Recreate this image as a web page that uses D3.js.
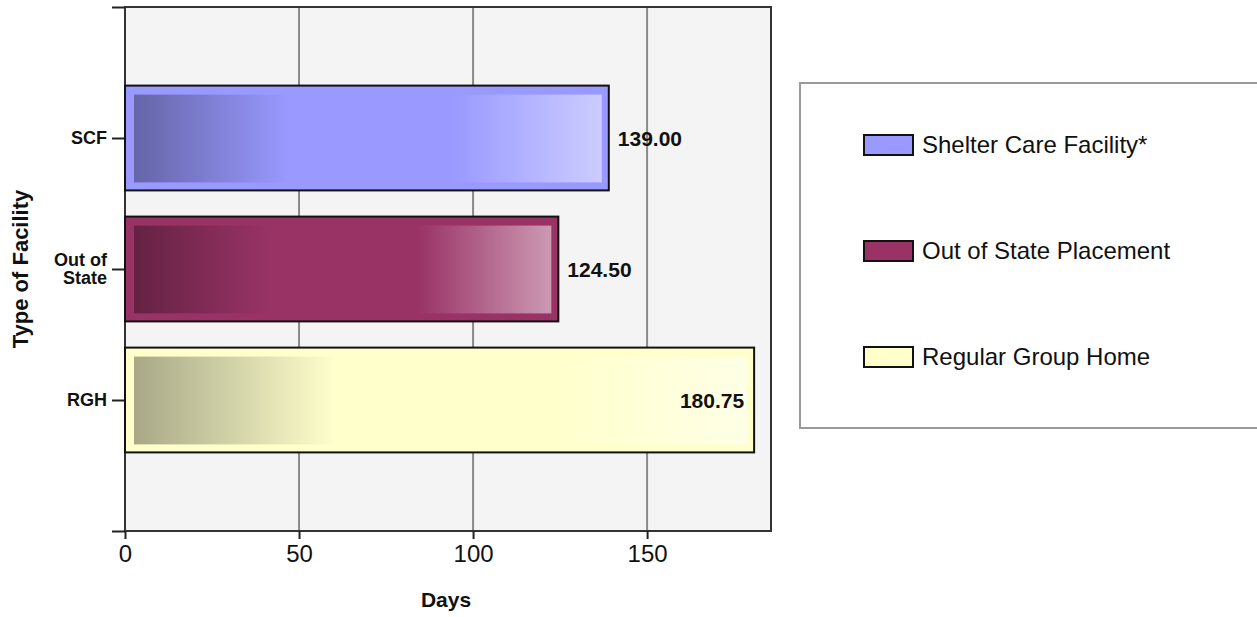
<!DOCTYPE html>
<html>
  <head>
    <meta charset="utf-8">
    <script src="https://d3js.org/d3.v7.min.js" type="text/javascript"></script>
    <style>
    body { margin: 0; background: #fff; }
    text { font-family: "Liberation Sans", Arial, sans-serif; fill: #111; }
    .cat { font-size: 18px; font-weight: bold; }
    .val { font-size: 21px; font-weight: bold; }
    .title { font-size: 21px; font-weight: bold; }
    .legend-text { font-size: 24px; }
    </style>
  </head>
  <body>
    <script>

    // data
    var categories = ["SCF", "Out of State", "RGH"];
    var catLines = [["SCF"], ["Out of", "State"], ["RGH"]];
    var values = [139.00, 124.50, 180.75];
    var seriesNames = ["Shelter Care Facility*", "Out of State Placement", "Regular Group Home"];
    var baseColors = ["#9999FF", "#993366", "#FFFFCC"];
    var xTicks = [0, 50, 100, 150];

    var W = 1257, H = 617;
    var plot = {left: 125, right: 771, top: 7, bottom: 531};

    var x = d3.scaleLinear().domain([0, 185.6]).range([plot.left, plot.right]);
    // categories sit at 1..3 on a 0..4 scale (ticks at both ends)
    var y = d3.scaleLinear().domain([0, categories.length + 1]).range([plot.top, plot.bottom]);

    var svg = d3.select("body")
      .append("svg")
        .attr("width", W)
        .attr("height", H);

    var defs = svg.append("defs");
    baseColors.forEach(function(c, i) {
      var base = d3.rgb(c);
      var dark = d3.rgb(base.r * 0.66, base.g * 0.66, base.b * 0.66);
      var light = d3.interpolateRgb(c, "#fff")(0.5);
      var g = defs.append("linearGradient")
          .attr("id", "grad" + i)
          .attr("x1", "0%").attr("x2", "100%")
          .attr("y1", "0%").attr("y2", "0%");
      g.append("stop").attr("offset", "0%").attr("stop-color", dark);
      g.append("stop").attr("offset", "33%").attr("stop-color", c);
      g.append("stop").attr("offset", "68%").attr("stop-color", c);
      g.append("stop").attr("offset", "100%").attr("stop-color", light);
    });

    // plot background
    svg.append("rect")
        .attr("x", plot.left)
        .attr("y", plot.top)
        .attr("width", plot.right - plot.left)
        .attr("height", plot.bottom - plot.top)
        .style("fill", "#F4F4F4");

    // vertical grid
    svg.selectAll(".grid")
        .data(xTicks.filter(function(d) { return d > 0; }))
        .enter().append("line")
        .attr("x1", function(d) { return x(d); })
        .attr("x2", function(d) { return x(d); })
        .attr("y1", plot.top)
        .attr("y2", plot.bottom)
        .style("stroke", "#8a8a8a")
        .style("stroke-width", 2);

    // plot border
    svg.append("rect")
        .attr("x", plot.left)
        .attr("y", plot.top)
        .attr("width", plot.right - plot.left)
        .attr("height", plot.bottom - plot.top)
        .style("fill", "none")
        .style("stroke", "#333")
        .style("stroke-width", 2);

    // x axis
    var xAxis = svg.append("g")
        .attr("transform", "translate(0," + plot.bottom + ")")
        .call(d3.axisBottom(x).tickValues(xTicks).tickSize(8).tickPadding(6).tickFormat(d3.format("d")));
    xAxis.select(".domain").remove();
    xAxis.selectAll("line").style("stroke", "#222").style("stroke-width", 2);
    xAxis.selectAll("text")
        .style("font-size", "24px")
        .style("font-family", "Liberation Sans, Arial, sans-serif")
        .style("fill", "#111");

    // y axis ticks at 0..4
    var yAxis = svg.append("g")
        .attr("transform", "translate(" + plot.left + ",0)")
        .call(d3.axisLeft(y).ticks(4).tickSize(13).tickFormat(""));
    yAxis.select(".domain").remove();
    yAxis.selectAll("line").style("stroke", "#222").style("stroke-width", 2);

    // category labels
    catLines.forEach(function(lines, i) {
      var t = svg.append("text")
          .attr("class", "cat")
          .attr("text-anchor", "end")
          .attr("x", 107)
          .attr("y", y(i + 1) + 6 - (lines.length - 1) * 9);
      lines.forEach(function(l, j) {
        t.append("tspan").attr("x", 107).attr("dy", j === 0 ? 0 : 18).text(l);
      });
    });

    // bars
    var bars = svg.selectAll(".bar")
        .data(values)
        .enter().append("g");

    bars.append("rect")
        .attr("x", x(0))
        .attr("y", function(d, i) { return y(i + 1 - 0.4); })
        .attr("width", function(d) { return x(d) - x(0); })
        .attr("height", function(d, i) { return y(i + 1 + 0.4) - y(i + 1 - 0.4); })
        .style("fill", function(d, i) { return baseColors[i]; })
        .style("stroke", "#111")
        .style("stroke-width", 2);

    bars.append("rect")
        .attr("x", x(0) + 9)
        .attr("y", function(d, i) { return y(i + 1 - 0.4) + 9; })
        .attr("width", function(d) { return x(d) - x(0) - 16; })
        .attr("height", function(d, i) { return y(i + 1 + 0.4) - y(i + 1 - 0.4) - 17; })
        .style("fill", function(d, i) { return "url(#grad" + i + ")"; });

    bars.append("text")
        .attr("class", "val")
        .attr("x", function(d) { return x(d) + 70 > plot.right ? x(d) - 10 : x(d) + 9; })
        .attr("y", function(d, i) { return y(i + 1) + 8; })
        .attr("text-anchor", function(d) { return x(d) + 70 > plot.right ? "end" : "start"; })
        .text(function(d) { return d.toFixed(2); });

    // axis titles
    svg.append("text")
        .attr("class", "title")
        .attr("x", (plot.left + plot.right) / 2 - 2)
        .attr("y", 607)
        .attr("text-anchor", "middle")
        .text("Days");

    svg.append("text")
        .attr("class", "title")
        .attr("transform", "translate(28," + ((plot.top + plot.bottom) / 2) + ") rotate(-90)")
        .attr("text-anchor", "middle")
        .style("font-size", "22px")
        .text("Type of Facility");

    // legend
    svg.append("rect")
        .attr("x", 800)
        .attr("y", 83)
        .attr("width", 480)
        .attr("height", 345)
        .style("fill", "#fff")
        .style("stroke", "#9a9a9a")
        .style("stroke-width", 2);

    var legend = svg.selectAll(".legend")
        .data(seriesNames)
        .enter().append("g")
        .attr("transform", function(d, i) { return "translate(864," + (135 + i * 106) + ")"; });

    legend.append("rect")
        .attr("width", 49)
        .attr("height", 20)
        .style("fill", function(d, i) { return baseColors[i]; })
        .style("stroke", "#111")
        .style("stroke-width", 2);

    legend.append("text")
        .attr("class", "legend-text")
        .attr("x", 58)
        .attr("y", 18)
        .text(function(d) { return d; });

    </script>
  </body>
</html>
